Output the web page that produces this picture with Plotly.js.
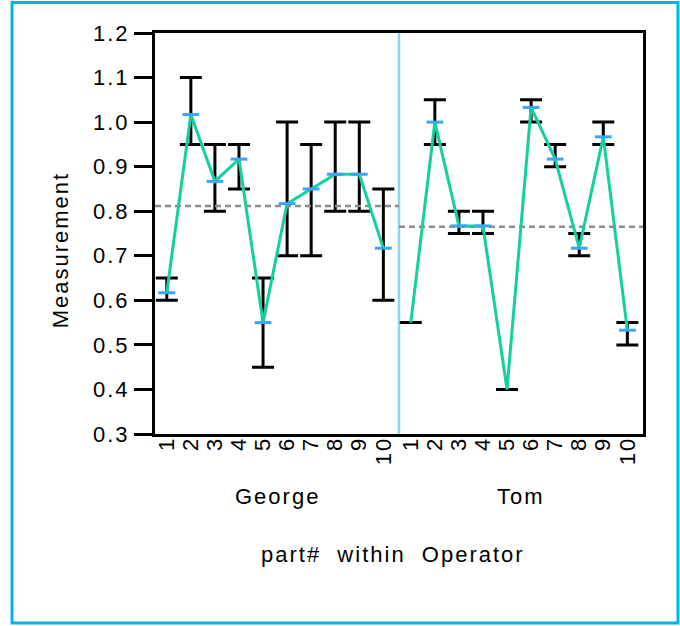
<!DOCTYPE html>
<html>
<head>
<meta charset="utf-8">
<script src="https://cdn.plot.ly/plotly-3.0.1.min.js"></script>
<style>
  html, body { margin: 0; padding: 0; background: #fff; }
  #chart { width: 680px; height: 626px; }
  #chart text { letter-spacing: 2px; }
</style>
</head>
<body>
<div id="chart"></div>
<script>
// Variability chart: part# nested within Operator
const operators = ['George', 'Tom'];
const parts = ['1', '2', '3', '4', '5', '6', '7', '8', '9', '10'];

// cell mean, minimum and maximum measurement for each part
const georgeMean = [0.617, 1.017, 0.867, 0.917, 0.55, 0.817, 0.85, 0.883, 0.883, 0.717];
const georgeMin  = [0.60, 0.95, 0.80, 0.85, 0.45, 0.70, 0.70, 0.80, 0.80, 0.60];
const georgeMax  = [0.65, 1.10, 0.95, 0.95, 0.65, 1.00, 0.95, 1.00, 1.00, 0.85];

const tomMean = [0.55, 1.00, 0.767, 0.767, 0.40, 1.033, 0.917, 0.717, 0.967, 0.533];
const tomMin  = [0.55, 0.95, 0.75, 0.75, 0.40, 1.00, 0.90, 0.70, 0.95, 0.50];
const tomMax  = [0.55, 1.05, 0.80, 0.80, 0.40, 1.05, 0.95, 0.75, 1.00, 0.55];

const groups = [
  { name: operators[0], mean: georgeMean, min: georgeMin, max: georgeMax },
  { name: operators[1], mean: tomMean, min: tomMin, max: tomMax }
];

// horizontal layout of the nested axis (in part-slot units)
const SPAN = 10.14;      // width of one operator block
const PAD_L = 0.49;      // space before the first part of a block
const PAD_R = SPAN - PAD_L - (parts.length - 1);

const FONT = 'Liberation Sans, Arial, Helvetica, sans-serif';
const FS = 22;
const GREEN = '#14cfa0';
const BLUE = '#3aa6f2';

const rangeTraces = [], meanLineTraces = [], cellLineTraces = [], tickTraces = [];
const tickvals = [], ticktext = [];
const shapes = [], annotations = [];

groups.forEach((g, gi) => {
  const x0 = gi * SPAN;
  const xs = parts.map((_, j) => x0 + j);
  xs.forEach((x, j) => { tickvals.push(x); ticktext.push(parts[j]); });

  // min-max range bars
  rangeTraces.push({
    type: 'scatter', mode: 'markers', x: xs, y: g.mean,
    marker: { size: 1, color: 'rgba(0,0,0,0)' },
    error_y: {
      type: 'data', symmetric: false,
      array: g.max.map((v, j) => v - g.mean[j]),
      arrayminus: g.mean.map((v, j) => v - g.min[j]),
      color: '#000', thickness: 3, width: 11
    },
    hoverinfo: 'skip'
  });

  // operator grand mean
  const grand = g.mean.reduce((a, b) => a + b, 0) / g.mean.length;
  meanLineTraces.push({
    type: 'scatter', mode: 'lines',
    x: [x0 - PAD_L, x0 + parts.length - 1 + PAD_R], y: [grand, grand],
    line: { color: '#8c8c8c', width: 2.5, dash: '6px,4px' },
    hoverinfo: 'skip'
  });

  // line connecting cell means
  cellLineTraces.push({
    type: 'scatter', mode: 'lines', x: xs, y: g.mean,
    line: { color: GREEN, width: 3 },
    hoverinfo: 'skip'
  });

  // cell mean ticks (only where the cell has spread)
  tickTraces.push({
    type: 'scatter', mode: 'markers', x: xs,
    y: g.mean.map((v, j) => (g.max[j] > g.min[j] ? v : null)),
    marker: { symbol: 'line-ew', size: 12, line: { color: BLUE, width: 3 } },
    hoverinfo: 'skip'
  });

  // operator label under its block
  annotations.push({
    text: g.name, showarrow: false,
    xref: 'x', yref: 'paper',
    x: x0 - PAD_L + SPAN / 2, y: -0.155,
    xanchor: 'center', yanchor: 'middle',
    font: { family: FONT, size: FS, color: '#000' }
  });

  // separator between operator blocks
  if (gi > 0) {
    shapes.push({
      type: 'line', layer: 'below',
      xref: 'x', yref: 'paper',
      x0: x0 - PAD_L, x1: x0 - PAD_L, y0: 0, y1: 1,
      line: { color: '#8fd6f2', width: 2.5 }
    });
  }
});

annotations.push({
  text: 'part#  within  Operator', showarrow: false,
  xref: 'paper', yref: 'paper', x: 0.488, y: -0.30,
  xanchor: 'center', yanchor: 'middle',
  font: { family: FONT, size: FS, color: '#000' }
});
annotations.push({
  text: 'Measurement', showarrow: false, textangle: -90,
  xref: 'paper', yref: 'paper', x: -0.193, y: 0.46,
  xanchor: 'center', yanchor: 'middle',
  font: { family: FONT, size: FS, color: '#000' }
});

// frame around the whole figure
shapes.push({
  type: 'rect', layer: 'above', xref: 'paper', yref: 'paper',
  x0: -0.293, x1: 1.0717, y0: -0.4713, y1: 1.076,
  line: { color: '#00b5ea', width: 3 }, fillcolor: 'rgba(0,0,0,0)'
});

const layout = {
  width: 680, height: 626,
  margin: { l: 155, r: 37, t: 33, b: 192 },
  paper_bgcolor: '#fff', plot_bgcolor: '#fff',
  showlegend: false, hovermode: false,
  font: { family: FONT, size: FS, color: '#000' },
  xaxis: {
    range: [-PAD_L, SPAN * groups.length - PAD_L],
    tickmode: 'array', tickvals: tickvals, ticktext: ticktext,
    tickangle: -90, ticks: '', ticklabelstandoff: -9,
    tickfont: { family: FONT, size: FS, color: '#000' },
    showgrid: false, zeroline: false,
    showline: true, linecolor: '#000', linewidth: 3, mirror: true
  },
  yaxis: {
    range: [0.3, 1.2], tick0: 0.3, dtick: 0.1, tickformat: '.1f',
    ticks: 'outside', ticklen: 18, tickwidth: 3, tickcolor: '#000',
    tickfont: { family: FONT, size: FS, color: '#000' },
    showgrid: false, zeroline: false,
    showline: true, linecolor: '#000', linewidth: 3, mirror: true
  },
  shapes: shapes,
  annotations: annotations
};

Plotly.newPlot('chart',
  [...rangeTraces, ...meanLineTraces, ...cellLineTraces, ...tickTraces],
  layout, { staticPlot: true, displayModeBar: false });
</script>
</body>
</html>
